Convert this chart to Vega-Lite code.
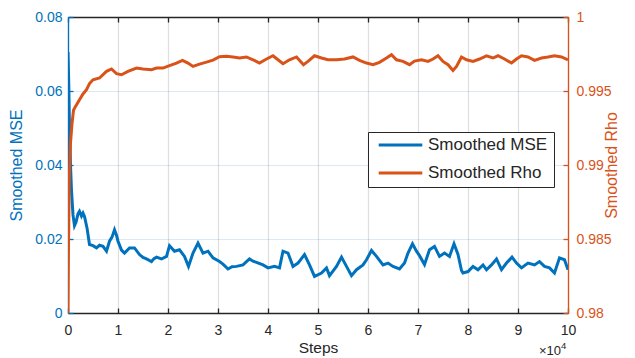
{
  "$schema": "https://vega.github.io/schema/vega-lite/v6.json",
  "autosize": "none",
  "width": 500,
  "height": 296,
  "padding": {"left": 68, "top": 17, "right": 67, "bottom": 45},
  "background": "white",
  "config": {
    "view": {"stroke": null},
    "font": "Liberation Sans",
    "axis": {"labelFont": "Liberation Sans", "titleFont": "Liberation Sans", "titleFontWeight": "normal", "labelFontSize": 14, "titleFontSize": 16, "domainWidth": 1.3, "tickWidth": 1.3}
  },
  "datasets": {
    "mse": [
      {"step": 0, "value": 0.0705}, {"step": 0.015, "value": 0.062}, {"step": 0.03, "value": 0.05}, {"step": 0.05, "value": 0.04}, {"step": 0.07, "value": 0.033}, {"step": 0.1, "value": 0.0265}, {"step": 0.13, "value": 0.0236}, {"step": 0.16, "value": 0.0245}, {"step": 0.2, "value": 0.0268}, {"step": 0.23, "value": 0.0275}, {"step": 0.27, "value": 0.0262}, {"step": 0.3, "value": 0.027}, {"step": 0.33, "value": 0.0261}, {"step": 0.38, "value": 0.023}, {"step": 0.43, "value": 0.0185}, {"step": 0.5, "value": 0.0182}, {"step": 0.57, "value": 0.0176}, {"step": 0.63, "value": 0.0183}, {"step": 0.7, "value": 0.018}, {"step": 0.77, "value": 0.0167}, {"step": 0.83, "value": 0.0194}, {"step": 0.88, "value": 0.0205}, {"step": 0.93, "value": 0.0225}, {"step": 0.97, "value": 0.021}, {"step": 1.0, "value": 0.0194}, {"step": 1.07, "value": 0.017}, {"step": 1.13, "value": 0.0162}, {"step": 1.23, "value": 0.0176}, {"step": 1.33, "value": 0.0176}, {"step": 1.43, "value": 0.0158}, {"step": 1.5, "value": 0.015}, {"step": 1.57, "value": 0.0146}, {"step": 1.67, "value": 0.0139}, {"step": 1.72, "value": 0.0147}, {"step": 1.77, "value": 0.0151}, {"step": 1.87, "value": 0.0146}, {"step": 1.97, "value": 0.0153}, {"step": 2.03, "value": 0.0182}, {"step": 2.13, "value": 0.0167}, {"step": 2.23, "value": 0.0171}, {"step": 2.33, "value": 0.0153}, {"step": 2.41, "value": 0.0126}, {"step": 2.5, "value": 0.0162}, {"step": 2.6, "value": 0.0189}, {"step": 2.7, "value": 0.0162}, {"step": 2.8, "value": 0.0167}, {"step": 2.9, "value": 0.0149}, {"step": 3.03, "value": 0.0139}, {"step": 3.1, "value": 0.0132}, {"step": 3.2, "value": 0.0119}, {"step": 3.28, "value": 0.0125}, {"step": 3.37, "value": 0.0126}, {"step": 3.5, "value": 0.013}, {"step": 3.63, "value": 0.0146}, {"step": 3.7, "value": 0.014}, {"step": 3.77, "value": 0.0137}, {"step": 3.9, "value": 0.013}, {"step": 4.0, "value": 0.0122}, {"step": 4.13, "value": 0.0126}, {"step": 4.23, "value": 0.0122}, {"step": 4.3, "value": 0.0167}, {"step": 4.4, "value": 0.0162}, {"step": 4.5, "value": 0.0126}, {"step": 4.6, "value": 0.0135}, {"step": 4.73, "value": 0.0158}, {"step": 4.83, "value": 0.013}, {"step": 4.93, "value": 0.0099}, {"step": 5.07, "value": 0.0108}, {"step": 5.17, "value": 0.0122}, {"step": 5.23, "value": 0.0101}, {"step": 5.37, "value": 0.0126}, {"step": 5.47, "value": 0.0151}, {"step": 5.57, "value": 0.0126}, {"step": 5.67, "value": 0.0101}, {"step": 5.77, "value": 0.0117}, {"step": 5.9, "value": 0.013}, {"step": 5.97, "value": 0.0144}, {"step": 6.07, "value": 0.0169}, {"step": 6.17, "value": 0.0153}, {"step": 6.3, "value": 0.013}, {"step": 6.4, "value": 0.0135}, {"step": 6.5, "value": 0.0126}, {"step": 6.63, "value": 0.0119}, {"step": 6.73, "value": 0.0135}, {"step": 6.8, "value": 0.0162}, {"step": 6.89, "value": 0.0187}, {"step": 6.97, "value": 0.0167}, {"step": 7.03, "value": 0.0155}, {"step": 7.13, "value": 0.0131}, {"step": 7.23, "value": 0.0171}, {"step": 7.33, "value": 0.018}, {"step": 7.43, "value": 0.0153}, {"step": 7.53, "value": 0.0162}, {"step": 7.63, "value": 0.0153}, {"step": 7.72, "value": 0.0187}, {"step": 7.8, "value": 0.0158}, {"step": 7.87, "value": 0.0115}, {"step": 7.9, "value": 0.0108}, {"step": 8.0, "value": 0.0112}, {"step": 8.1, "value": 0.0126}, {"step": 8.2, "value": 0.0117}, {"step": 8.3, "value": 0.013}, {"step": 8.37, "value": 0.0117}, {"step": 8.47, "value": 0.013}, {"step": 8.57, "value": 0.0146}, {"step": 8.67, "value": 0.0117}, {"step": 8.77, "value": 0.0135}, {"step": 8.88, "value": 0.0151}, {"step": 8.97, "value": 0.0135}, {"step": 9.07, "value": 0.0122}, {"step": 9.2, "value": 0.0135}, {"step": 9.33, "value": 0.013}, {"step": 9.43, "value": 0.0139}, {"step": 9.53, "value": 0.0126}, {"step": 9.63, "value": 0.0122}, {"step": 9.73, "value": 0.0108}, {"step": 9.83, "value": 0.0149}, {"step": 9.93, "value": 0.0144}, {"step": 10.0, "value": 0.0117}
    ],
    "rho": [
      {"step": 0, "value": 0.98}, {"step": 0.01, "value": 0.9845}, {"step": 0.025, "value": 0.989}, {"step": 0.05, "value": 0.9915}, {"step": 0.08, "value": 0.9928}, {"step": 0.11, "value": 0.9937}, {"step": 0.15, "value": 0.99396}, {"step": 0.23, "value": 0.99441}, {"step": 0.3, "value": 0.9948}, {"step": 0.37, "value": 0.99509}, {"step": 0.43, "value": 0.9955}, {"step": 0.5, "value": 0.99576}, {"step": 0.63, "value": 0.99588}, {"step": 0.77, "value": 0.99633}, {"step": 0.87, "value": 0.99649}, {"step": 0.97, "value": 0.99617}, {"step": 1.07, "value": 0.9961}, {"step": 1.2, "value": 0.99633}, {"step": 1.37, "value": 0.99655}, {"step": 1.5, "value": 0.99649}, {"step": 1.67, "value": 0.99644}, {"step": 1.77, "value": 0.99655}, {"step": 1.9, "value": 0.99655}, {"step": 2.03, "value": 0.99671}, {"step": 2.17, "value": 0.99689}, {"step": 2.29, "value": 0.99707}, {"step": 2.4, "value": 0.99689}, {"step": 2.5, "value": 0.99666}, {"step": 2.63, "value": 0.99682}, {"step": 2.77, "value": 0.99695}, {"step": 2.9, "value": 0.99709}, {"step": 3.03, "value": 0.99732}, {"step": 3.17, "value": 0.99734}, {"step": 3.3, "value": 0.9973}, {"step": 3.43, "value": 0.99723}, {"step": 3.57, "value": 0.9973}, {"step": 3.7, "value": 0.99711}, {"step": 3.83, "value": 0.99689}, {"step": 3.97, "value": 0.99716}, {"step": 4.1, "value": 0.99738}, {"step": 4.2, "value": 0.99711}, {"step": 4.3, "value": 0.99684}, {"step": 4.43, "value": 0.99711}, {"step": 4.57, "value": 0.9973}, {"step": 4.71, "value": 0.99678}, {"step": 4.8, "value": 0.997}, {"step": 4.93, "value": 0.99738}, {"step": 5.07, "value": 0.99723}, {"step": 5.2, "value": 0.99711}, {"step": 5.37, "value": 0.99711}, {"step": 5.53, "value": 0.99716}, {"step": 5.7, "value": 0.9973}, {"step": 5.83, "value": 0.99707}, {"step": 5.97, "value": 0.99689}, {"step": 6.1, "value": 0.99678}, {"step": 6.23, "value": 0.99694}, {"step": 6.37, "value": 0.99723}, {"step": 6.47, "value": 0.99745}, {"step": 6.57, "value": 0.99711}, {"step": 6.7, "value": 0.997}, {"step": 6.83, "value": 0.99678}, {"step": 6.93, "value": 0.99702}, {"step": 7.07, "value": 0.99711}, {"step": 7.2, "value": 0.997}, {"step": 7.3, "value": 0.99716}, {"step": 7.4, "value": 0.99738}, {"step": 7.5, "value": 0.997}, {"step": 7.6, "value": 0.99678}, {"step": 7.7, "value": 0.99639}, {"step": 7.77, "value": 0.99666}, {"step": 7.87, "value": 0.9973}, {"step": 7.97, "value": 0.99711}, {"step": 8.1, "value": 0.997}, {"step": 8.23, "value": 0.99716}, {"step": 8.37, "value": 0.99738}, {"step": 8.5, "value": 0.99723}, {"step": 8.6, "value": 0.99738}, {"step": 8.73, "value": 0.99716}, {"step": 8.87, "value": 0.99689}, {"step": 8.97, "value": 0.99716}, {"step": 9.07, "value": 0.99738}, {"step": 9.2, "value": 0.9973}, {"step": 9.33, "value": 0.99707}, {"step": 9.47, "value": 0.99723}, {"step": 9.6, "value": 0.9973}, {"step": 9.73, "value": 0.99738}, {"step": 9.87, "value": 0.9973}, {"step": 10.0, "value": 0.99711}
    ]
  },
  "layer": [
    {
      "data": {"name": "mse"},
      "mark": {"type": "line", "strokeWidth": 3, "clip": true},
      "encoding": {
        "x": {
          "field": "step", "type": "quantitative",
          "scale": {"domain": [0, 10], "nice": false, "zero": false},
          "axis": {"orient": "bottom", "values": [0,1,2,3,4,5,6,7,8,9,10], "title": "Steps", "titleFontSize": 15.5, "grid": true, "gridColor": "#262626", "gridOpacity": 0.15, "gridWidth": 1.2, "domainColor": "#262626", "tickColor": "#262626", "labelColor": "#262626", "titleColor": "#262626", "tickSize": -5, "labelPadding": 15, "titlePadding": 3, "labelFlush": false}
        },
        "y": {
          "field": "value", "type": "quantitative",
          "scale": {"domain": [0, 0.08], "nice": false, "zero": false},
          "axis": {"orient": "left", "values": [0, 0.02, 0.04, 0.06, 0.08], "labelExpr": "format(datum.value, '.2~f')", "title": "Smoothed MSE", "grid": true, "gridColor": "#0072BD", "gridOpacity": 0.15, "gridWidth": 1.2, "domainColor": "#0072BD", "tickColor": "#0072BD", "labelColor": "#0072BD", "titleColor": "#0072BD", "tickSize": -5, "labelPadding": 11, "titlePadding": 10}
        },
        "color": {
          "datum": "Smoothed MSE",
          "scale": {"domain": ["Smoothed MSE", "Smoothed Rho"], "range": ["#0072BD", "#D95319"]},
          "legend": {"orient": "none", "legendX": 300, "legendY": 115, "title": null, "strokeColor": "#262626", "fillColor": "white", "padding": 6, "symbolType": "stroke", "symbolSize": 1900, "symbolStrokeWidth": 3, "symbolOffset": 3, "labelFontSize": 17, "labelFont": "Liberation Sans", "labelColor": "#262626", "labelOffset": 4, "clipHeight": 14, "rowPadding": 11, "cornerRadius": 0}
        }
      }
    },
    {
      "data": {"name": "rho"},
      "mark": {"type": "line", "strokeWidth": 3, "clip": true},
      "encoding": {
        "x": {
          "field": "step", "type": "quantitative",
          "scale": {"domain": [0, 10], "nice": false, "zero": false},
          "axis": {"orient": "top", "values": [0,1,2,3,4,5,6,7,8,9,10], "title": null, "labels": false, "grid": false, "domainColor": "#262626", "tickColor": "#262626", "tickSize": -5}
        },
        "y": {
          "field": "value", "type": "quantitative",
          "scale": {"domain": [0.98, 1], "nice": false, "zero": false},
          "axis": {"orient": "right", "values": [0.98, 0.985, 0.99, 0.995, 1], "labelExpr": "format(datum.value, '.3~f')", "title": "Smoothed Rho", "titleAngle": 270, "grid": false, "domainColor": "#D95319", "tickColor": "#D95319", "labelColor": "#D95319", "titleColor": "#D95319", "tickSize": -5, "labelPadding": 13, "titlePadding": 8}
        },
        "color": {"datum": "Smoothed Rho"}
      }
    },
    {
      "data": {"values": [{"step": 10, "label": "×10"}]},
      "mark": {"type": "text", "align": "right", "baseline": "alphabetic", "fontSize": 13, "font": "Liberation Sans", "color": "#262626", "dx": -7, "dy": 42},
      "encoding": {
        "x": {"field": "step", "type": "quantitative", "axis": null},
        "y": {"value": 296},
        "text": {"field": "label"}
      }
    },
    {
      "data": {"values": [{"step": 10, "label": "4"}]},
      "mark": {"type": "text", "align": "left", "baseline": "alphabetic", "fontSize": 9.5, "font": "Liberation Sans", "color": "#262626", "dx": -7, "dy": 36},
      "encoding": {
        "x": {"field": "step", "type": "quantitative", "axis": null},
        "y": {"value": 296},
        "text": {"field": "label"}
      }
    }
  ],
  "resolve": {"scale": {"y": "independent"}}
}
